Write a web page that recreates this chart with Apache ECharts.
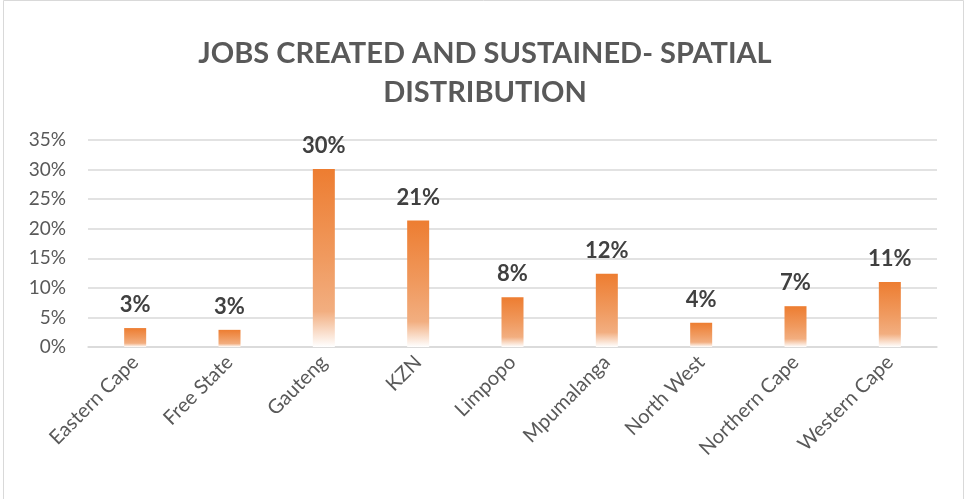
<!DOCTYPE html>
<html>
<head>
<meta charset="utf-8">
<script src="https://cdn.jsdelivr.net/npm/echarts@6/dist/echarts.min.js"></script>
<style>
  html, body { margin: 0; padding: 0; background: #fff; }
  #chart { width: 970px; height: 499px; }
</style>
</head>
<body>
<div id="chart"></div>
<script>
// provinces and their share of jobs (%)
const provinces = ['Eastern Cape', 'Free State', 'Gauteng', 'KZN', 'Limpopo', 'Mpumalanga', 'North West', 'Northern Cape', 'Western Cape'];
const jobShare = [3.2, 2.9, 30.1, 21.4, 8.4, 12.4, 4.1, 6.9, 11.0];
const yTicks = [0, 5, 10, 15, 20, 25, 30, 35];

let myChart = echarts.init(document.getElementById('chart'));
let option = {
    backgroundColor: '#fff',
    title: {
        text: 'JOBS CREATED AND SUSTAINED- SPATIAL\nDISTRIBUTION',
        left: 'center',
        top: 29,
        textStyle: {
            fontFamily: 'Lato',
            fontWeight: 'bold',
            fontSize: 29,
            lineHeight: 39,
            color: '#595959'
        }
    },
    graphic: [{
        type: 'rect',
        shape: { x: 3.5, y: 0.5, width: 960, height: 500 },
        style: { fill: 'none', stroke: '#D9D9D9', lineWidth: 1 },
        silent: true
    }],
    grid: { left: 88, right: 33, top: 140, bottom: 152 },
    xAxis: {
        type: 'category',
        data: provinces,
        axisLine: { lineStyle: { color: '#D9D9D9', width: 1.5 } },
        axisTick: { show: false },
        axisLabel: {
            rotate: 45,
            interval: 0,
            margin: 12,
            fontFamily: 'Lato',
            fontSize: 20,
            color: '#595959'
        }
    },
    yAxis: {
        type: 'value',
        min: yTicks[0],
        max: yTicks[yTicks.length - 1],
        interval: 5,
        axisLine: { show: false },
        axisTick: { show: false },
        splitLine: { lineStyle: { color: '#D9D9D9', width: 1.5 } },
        axisLabel: {
            formatter: '{value}%',
            margin: 22,
            fontFamily: 'Lato',
            fontSize: 19,
            color: '#595959'
        }
    },
    series: [{
        type: 'bar',
        data: jobShare,
        barWidth: 22,
        itemStyle: {
            color: new echarts.graphic.LinearGradient(0, 0, 0, 1, [
                { offset: 0, color: '#ED7D31' },
                { offset: 0.5, color: '#F09A5F' },
                { offset: 0.8, color: '#F2AE80' },
                { offset: 1, color: '#FFFFFF' }
            ])
        },
        label: {
            show: true,
            position: 'top',
            distance: 12,
            formatter: p => Math.round(p.value) + '%',
            fontFamily: 'Lato',
            fontWeight: 'bold',
            fontSize: 22,
            color: '#404040'
        }
    }]
};
myChart.setOption(option);
</script>
</body>
</html>
